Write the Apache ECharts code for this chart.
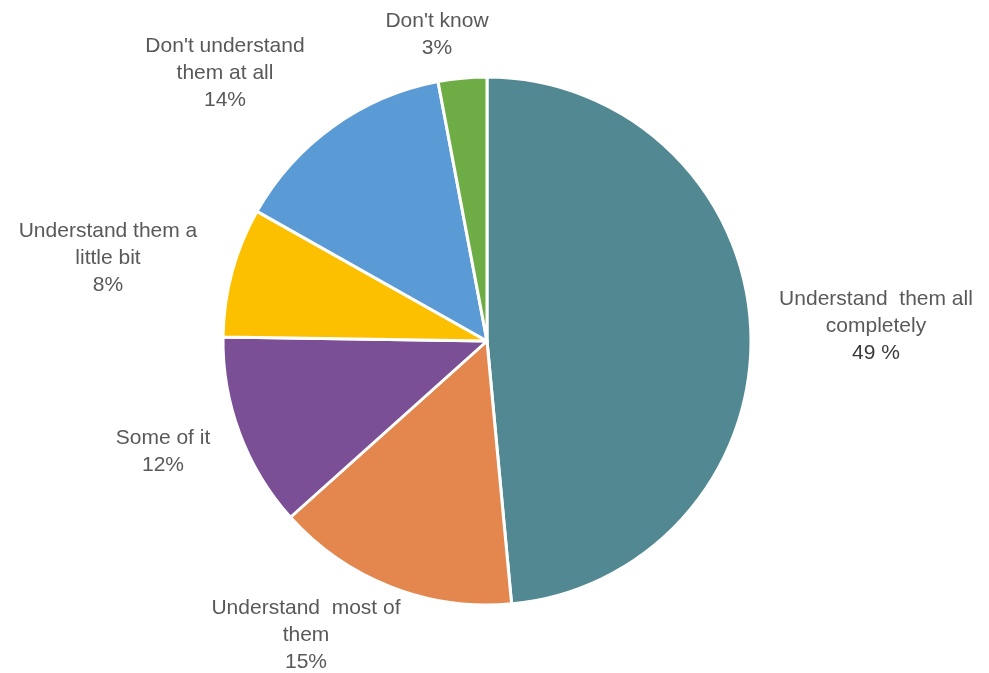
<!DOCTYPE html>
<html>
<head>
<meta charset="utf-8">
<script src="https://cdn.jsdelivr.net/npm/echarts@6/dist/echarts.min.js"></script>
<style>
  html, body { margin: 0; padding: 0; background: #ffffff; }
  #chart { width: 989px; height: 673px; }
</style>
</head>
<body>
<div id="chart"></div>
<script>
// Survey answers, clockwise from 12 o'clock
const categories = [
  'Understand  them all\ncompletely',
  'Understand  most of\nthem',
  'Some of it',
  'Understand them a\nlittle bit',
  "Don't understand\nthem at all",
  "Don't know"
];
const shares = [49, 15, 12, 8, 14, 3];
const valueLabels = ['49 %', '15%', '12%', '8%', '14%', '3%'];
const sliceColors = ['#528891', '#E3874F', '#7A4F95', '#FDC000', '#5A9AD5', '#6EAC46'];

const cx = 487, cy = 341, radius = 264;

// Where each label block sits, as offset from the pie centre
const labelOffsets = [
  [389, -15],
  [-181, 294],
  [-324, 111],
  [-379, -83],
  [-262, -268],
  [-50, -306]
];

const chart = echarts.init(document.getElementById('chart'), null, { renderer: 'canvas' });

chart.setOption({
  backgroundColor: '#ffffff',
  animation: false,
  series: [{
    type: 'pie',
    center: [cx, cy],
    radius: [0, radius],
    startAngle: 90,
    clockwise: true,
    avoidLabelOverlap: false,
    data: categories.map((name, i) => ({
      name: name,
      value: shares[i],
      itemStyle: { color: sliceColors[i] },
      label: {
        formatter: i === 0
          ? '{b}\n{v|' + valueLabels[i] + '}'
          : '{b}\n' + valueLabels[i]
      }
    })),
    itemStyle: { borderColor: '#ffffff', borderWidth: 3 },
    label: {
      show: true,
      position: 'outside',
      fontFamily: 'Liberation Sans, Arial, sans-serif',
      fontSize: 21,
      lineHeight: 27,
      color: '#595959',
      align: 'center',
      rich: {
        v: { fontFamily: 'Liberation Sans, Arial, sans-serif', fontSize: 21, lineHeight: 27, color: '#3a3a3a' }
      }
    },
    labelLine: { show: false },
    labelLayout: function (params) {
      const o = labelOffsets[params.dataIndex];
      return {
        x: cx + o[0],
        y: cy + o[1],
        align: 'center',
        verticalAlign: 'middle'
      };
    },
    emphasis: { disabled: true }
  }]
});
</script>
</body>
</html>
